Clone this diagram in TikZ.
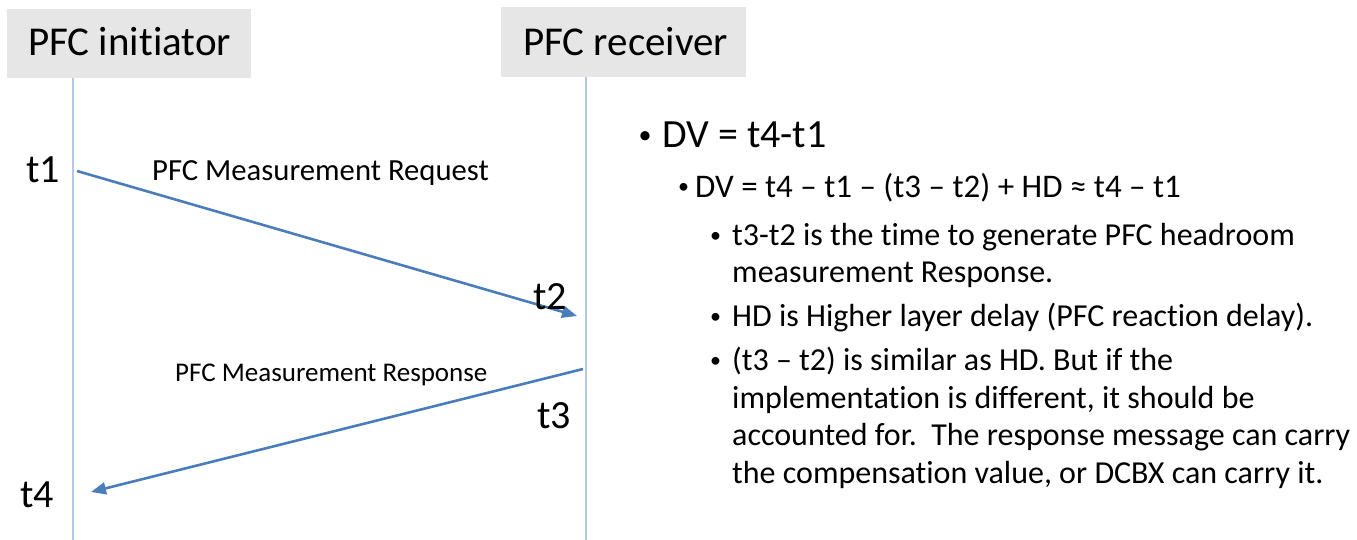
\documentclass[tikz,border=0pt]{standalone}
\usepackage{fontspec}
\setmainfont{Carlito}[Ligatures=NoCommon]
\usetikzlibrary{arrows.meta}
\definecolor{hdrfill}{HTML}{E6E6E6}
\definecolor{lifeblue}{HTML}{B4C7E7}
\definecolor{msgblue}{HTML}{4A7EBB}
\tikzset{
  hdr/.style={fill=hdrfill, draw=none, inner sep=0pt, anchor=north west},
  txt/.style={anchor=base west, inner sep=0pt, text=black},
  lifeline/.style={draw=lifeblue, line width=2pt},
  msg/.style={draw=msgblue, line width=2.6pt, -{Triangle[length=15pt,width=12pt]}},
}
\newcommand{\fs}[1]{\fontsize{#1}{#1}\selectfont}
\begin{document}
\begin{tikzpicture}[x=1pt,y=-1pt]
\useasboundingbox (0,0) rectangle (1357,540);
% header boxes
\node[hdr, minimum width=244pt, minimum height=69pt] (ini) at (7,9) {};
\node[txt] (initxt) at (28,56) {\fs{41}PFC initiator};
\node[hdr, minimum width=245pt, minimum height=70pt] (rec) at (501,7) {};
\node[txt] (rectxt) at (523,56) {\fs{41}PFC receiver};
% lifelines
\coordinate (iniTop) at (73,78);
\coordinate (recTop) at (586,77);
\coordinate (iniEnd) at (73,540);
\coordinate (recEnd) at (586,540);
\draw[lifeline] (iniTop) -- (iniEnd);
\draw[lifeline] (recTop) -- (recEnd);
% messages
\coordinate (m1s) at (77,171);
\coordinate (m1e) at (577,316);
\coordinate (m2s) at (583,369);
\coordinate (m2e) at (91,492);
\draw[msg] (m1s) -- (m1e);
\draw[msg] (m2s) -- (m2e);
\node[txt] (lreq) at (152,181) {\fs{30.7}PFC Measurement Request};
\node[txt] (lres) at (175,381) {\fs{27}PFC Measurement Response};
% time labels
\node[txt] (t1) at (26,183) {\fs{40}t1};
\node[txt] (t2) at (533,309) {\fs{40}t2};
\node[txt] (t3) at (537,428) {\fs{40}t3};
\node[txt] (t4) at (20,507) {\fs{40}t4};
% right-hand text
\node[txt] (b1) at (638.5,143.5) {\fs{26}•};
\node[txt] (l1) at (662,148) {\fs{40}DV = t4-t1};
\node[txt] (b2) at (678,194) {\fs{22}•};
\node[txt] (l2) at (695,198) {\fs{33}DV = t4 – t1 – (t3 – t2) + HD ≈ t4 – t1};
\node[txt] (b3) at (710,242.5) {\fs{22}•};
\node[txt] (l3a) at (732,245) {\fs{32}t3-t2 is the time to generate PFC headroom};
\node[txt] (l3b) at (732,282) {\fs{32}measurement Response.};
\node[txt] (b4) at (710,323.5) {\fs{22}•};
\node[txt] (l4) at (732,326) {\fs{32}HD is Higher layer delay (PFC reaction delay).};
\node[txt] (b5) at (710,367.5) {\fs{22}•};
\node[txt] (l5a) at (732,370) {\fs{32}(t3 – t2) is similar as HD. But if the};
\node[txt] (l5b) at (732,408) {\fs{32}implementation is different, it should be};
\node[txt] (l5c) at (732,445) {\fs{32}accounted for.\ \ The response message can carry};
\node[txt] (l5d) at (732,483) {\fs{32}the compensation value, or DCBX can carry it.};
\end{tikzpicture}
\end{document}
